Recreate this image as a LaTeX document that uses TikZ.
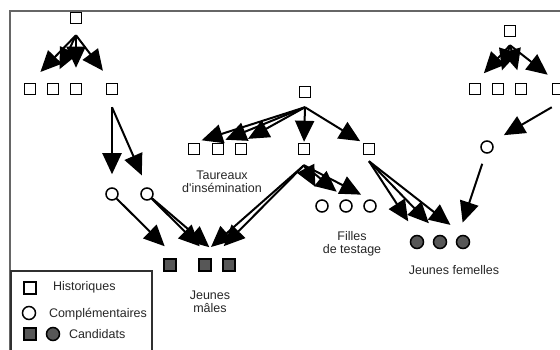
\documentclass[tikz,border=0pt]{standalone}
\usepackage{fontspec}
\setmainfont{Liberation Sans}
\usetikzlibrary{arrows.meta,positioning}

\definecolor{candgray}{HTML}{575757}
\definecolor{framegray}{HTML}{666666}
\definecolor{legendgray}{HTML}{303030}

\tikzset{
  hist/.style={draw,rectangle,line width=1.5pt,minimum size=11pt,inner sep=0pt,fill=white},
  compl/.style={draw,circle,line width=1.5pt,minimum size=12pt,inner sep=0pt,fill=white},
  candsq/.style={hist,fill=candgray,minimum size=12pt},
  candci/.style={compl,fill=candgray,minimum size=13pt},
  lbl/.style={font=\fontsize{12.5pt}{13.5pt}\selectfont,align=center,inner sep=0pt,text=black!85}
}

\begin{document}
\begin{tikzpicture}[x=1pt,y=-1pt,>={Triangle[length=21pt,width=19pt]},line width=2pt,node distance=23pt,on grid]
\useasboundingbox (0,0) rectangle (560,350);
\clip (0,0) rectangle (560,350);
\draw[framegray,line width=1.8pt] (10,11) rectangle (580,370);

\node[hist] (a0) at (76,18) {};
\node[hist] (a1) at (30,89) {};
\node[hist] (a2) [right=of a1] {};
\node[hist] (a3) [right=of a2] {};
\node[hist] (a4) [right=36pt of a3] {};
\node[compl] (c1) at (112,194) {};
\node[compl] (c2) [right=35pt of c1] {};

\node[hist] (b0) at (305,92) {};
\node[hist] (t1) at (194,149) {};
\node[hist] (t2) [right=24pt of t1] {};
\node[hist] (t3) [right=of t2] {};
\node[hist] (b2) at (304,149) {};
\node[hist] (b3) [right=65pt of b2] {};
\node[compl] (f1) at (322,206) {};
\node[compl] (f2) [right=24pt of f1] {};
\node[compl] (f3) [right=24pt of f2] {};

\node[candsq] (m1) at (170,265) {};
\node[candsq] (m2) [right=35pt of m1] {};
\node[candsq] (m3) [right=24pt of m2] {};
\node[candci] (g1) at (417,242) {};
\node[candci] (g2) [right=of g1] {};
\node[candci] (g3) [right=of g2] {};

\node[hist] (d0) at (510,31) {};
\node[hist] (r1) at (475,89) {};
\node[hist] (r2) [right=of r1] {};
\node[hist] (r3) [right=of r2] {};
\node[hist] (r4) [right=37pt of r3] {};
\node[compl] (rc) at (487,147) {};

\node[lbl] (taur) at (222,182) {Taureaux\\d\textquotesingle insémination};
\node[lbl] (jm) at (210,302) {Jeunes\\mâles};
\node[lbl] (fil) at (352,244) {Filles\\de testage};
\node[lbl] (jf) at (454,270) {Jeunes femelles};

\path[->,shorten >=15pt] ([yshift=-11pt]a0.south) edge (a1.north) edge (a2.north) edge (a3.north) edge (a4.north);
\path[->,shorten >=13pt] ([yshift=-12pt]a4.south) edge (c1.north) edge (c2.north);
\path[->,shorten >=17pt] (c1) edge (m1.north east)
  (c2) edge (m2.north east) edge (m3.north west);

\path[->,shorten >=8pt] ([yshift=-9pt]b0.south) edge (t1.north) edge (t2.north) edge (t3.north)
  edge[shorten >=1pt] (b2.north) edge[shorten >=3pt] (b3.north west);
\path[->] ([yshift=-10pt]b2.south) edge[shorten >=14pt] (f1.north) edge[shorten >=12pt] (f2.north)
  edge[shorten >=10pt] (f3.north)
  edge[shorten >=17pt] (m2.north west) edge[shorten >=17pt] (m2.north east);
\path[->,shorten >=16pt] ([yshift=-6pt]b3.south) edge (g1.north) edge (g2.north) edge (g3.north);

\path[->,shorten >=13pt] ([yshift=-8pt]d0.south) edge (r1.north) edge (r2.north) edge (r3.north) edge (r4.north);
\path[->,shorten >=14pt] ([yshift=-12pt]r4.south west) edge (rc.north east);
\path[->,shorten >=15pt] ([yshift=-12pt]rc.south west) edge (g3.north west);

\draw[legendgray,line width=1.8pt] (11,271) rectangle (152,380);
\node[hist,minimum size=12pt] (lh) at (30,288) {};
\node[lbl,anchor=west] (lht) at (52,287) {Historiques};
\node[compl,minimum size=13pt] (lc) at (29,313) {};
\node[lbl,anchor=west] (lct) at (48,314) {Complémentaires};
\node[candsq] (lsq) at (30,334) {};
\node[candci] (lci) at (53,334) {};
\node[lbl,anchor=west] (lcat) at (68,334) {Candidats};
\end{tikzpicture}
\end{document}
